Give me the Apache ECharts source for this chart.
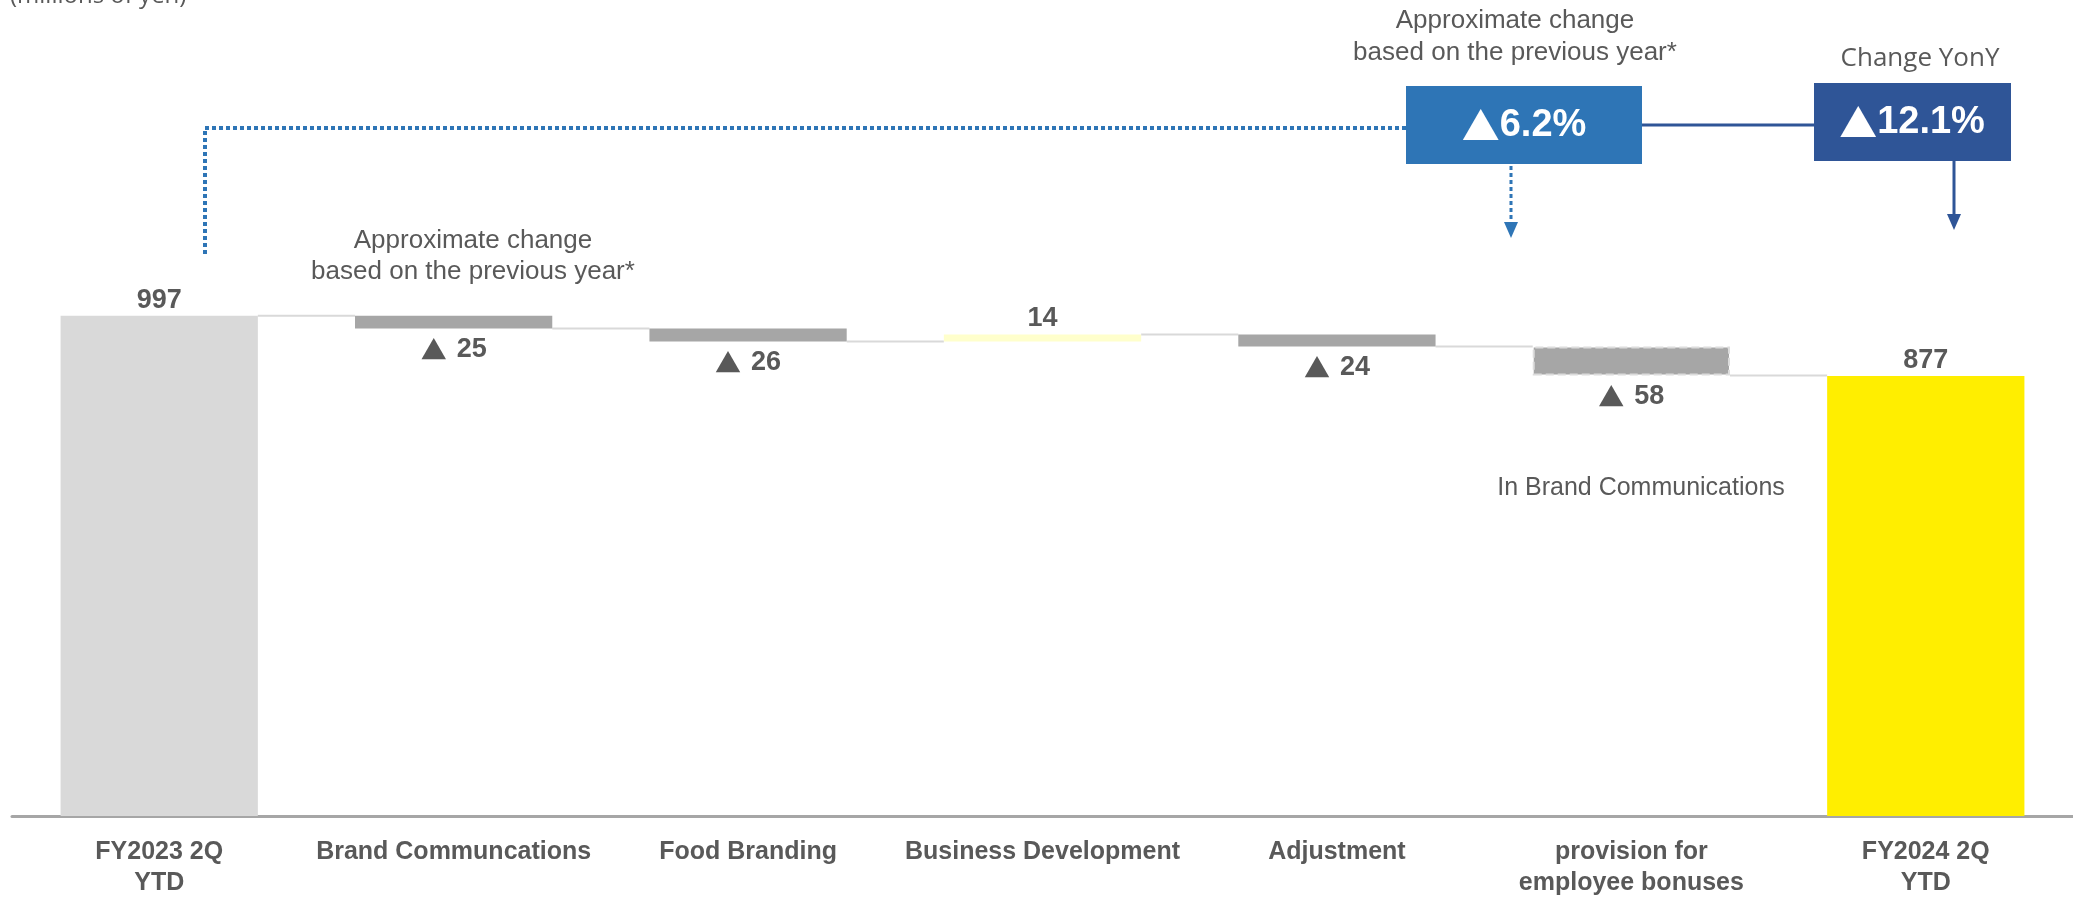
<!DOCTYPE html>
<html>
<head>
<meta charset="utf-8">
<script src="https://cdn.jsdelivr.net/npm/echarts@6/dist/echarts.min.js"></script>
<style>
html,body{margin:0;padding:0;background:#fff;}
#chart{width:2073px;height:899px;}
</style>
</head>
<body>
<div id="chart"></div>
<script>
// ---- data ----
const categories = ['FY2023 2Q\nYTD', 'Brand Communcations', 'Food Branding', 'Business Development', 'Adjustment', 'provision for\nemployee bonuses', 'FY2024 2Q\nYTD'];
const startValue = 997;
const deltas = [-25, -26, 14, -24, -58];
const endValue = 877;
const boxChange = '6.2%';
const yonyChange = '12.1%';

// ---- derived waterfall ----
const baseVals = [0];
const barVals = [startValue];
const levels = [startValue];
let run = startValue;
deltas.forEach(d => {
  const next = run + d;
  baseVals.push(Math.min(run, next));
  barVals.push(Math.abs(d));
  run = next;
  levels.push(run);
});
baseVals.push(0);
barVals.push(endValue);

const FONT = "'Liberation Sans', Arial, sans-serif";
const CJK = "'Noto Sans CJK JP', 'DejaVu Sans', sans-serif";
const TXT = '#595959';

const barData = barVals.map((v, i) => {
  let color, label, extra = {};
  if (i === 0) { color = '#d9d9d9'; label = { position: 'top', distance: 2, formatter: '{n|' + v + '}' }; }
  else if (i === barVals.length - 1) { color = '#ffee00'; label = { position: 'top', distance: 2, formatter: '{n|' + v + '}' }; }
  else {
    const d = deltas[i - 1];
    if (d >= 0) { color = '#ffffcc'; label = { position: 'top', distance: 2, formatter: '{n|' + d + '}' }; }
    else { color = '#a6a6a6'; label = { position: 'bottom', distance: 8, formatter: '{t|▲}{n|' + Math.abs(d) + '}' }; }
    if (i === 5) extra = { borderColor: '#dcdcdc', borderType: 'dashed', borderWidth: 2 };
  }
  return { value: v, itemStyle: Object.assign({ color: color }, extra), label: label };
});

const connectorData = levels.map((l, i) => [i, l]);

const chart = echarts.init(document.getElementById('chart'), null, { renderer: 'canvas' });
chart.setOption({
  animation: false,
  backgroundColor: '#ffffff',
  grid: { left: 12, width: 2070, top: 214, bottom: 82, containLabel: false },
  xAxis: {
    type: 'category',
    data: categories,
    axisLine: { show: true, lineStyle: { color: '#a6a6a6', width: 3 } },
    axisTick: { show: false },
    axisLabel: { interval: 0, margin: 21, fontFamily: FONT, fontWeight: 'bold', fontSize: 25, lineHeight: 31, color: TXT }
  },
  yAxis: { type: 'value', min: 0, max: 1200, show: false, splitLine: { show: false } },
  series: [
    {
      type: 'bar', stack: 'w', data: baseVals, barCategoryGap: '33%',
      itemStyle: { color: 'transparent' }, label: { show: false }, silent: true
    },
    {
      type: 'bar', stack: 'w', data: barData, barCategoryGap: '33%',
      label: {
        show: true, color: TXT,
        rich: {
          n: { fontFamily: FONT, fontWeight: 'bold', fontSize: 27, color: TXT },
          t: { fontFamily: CJK, fontSize: 26, color: TXT, padding: [0, 10, 0, 0] }
        }
      }
    },
    {
      type: 'custom', data: connectorData, z: 1,
      renderItem: function (params, api) {
        const i = api.value(0);
        if (i >= categories.length - 1) return null;
        const lvl = api.value(1);
        const p1 = api.coord([i, lvl]);
        const p2 = api.coord([i + 1, lvl]);
        const bw = api.size([1, 0])[0] * 0.67;
        return {
          type: 'line',
          shape: { x1: p1[0] + bw / 2, y1: p1[1], x2: p2[0] - bw / 2, y2: p1[1] },
          style: { stroke: '#d9d9d9', lineWidth: 2 }
        };
      }
    }
  ],
  graphic: [
    { type: 'text', left: 10, top: -16, style: { text: '(millions of yen)', font: "24px 'Open Sans', sans-serif", fill: TXT } },
    { type: 'text', x: 1515, y: 37, style: { text: 'Approximate change\nbased on the previous year*', font: '26px ' + FONT, fill: TXT, align: 'center', verticalAlign: 'middle', lineHeight: 32 } },
    { type: 'text', x: 473, y: 256, style: { text: 'Approximate change\nbased on the previous year*', font: '26px ' + FONT, fill: TXT, align: 'center', verticalAlign: 'middle', lineHeight: 31 } },
    { type: 'text', x: 1920, y: 59, style: { text: 'Change YonY', font: "26px 'Open Sans', sans-serif", fill: TXT, align: 'center', verticalAlign: 'middle' } },
    { type: 'text', x: 1641, y: 488, style: { text: 'In Brand Communications', font: '25px ' + FONT, fill: TXT, align: 'center', verticalAlign: 'middle' } },
    { type: 'polyline', shape: { points: [[205, 254], [205, 128], [1406, 128]] }, style: { stroke: '#2e75b6', lineWidth: 4, lineDash: [4, 3], fill: null } },
    { type: 'rect', shape: { x: 1406, y: 86, width: 236, height: 78 }, style: { fill: '#2e75b6' } },
    { type: 'text', x: 1524, y: 126, style: {
        text: '{t|▲}{n|' + boxChange + '}', align: 'center', verticalAlign: 'middle',
        rich: { t: { fontFamily: CJK, fontSize: 38, fill: '#ffffff', color: '#ffffff' }, n: { fontFamily: FONT, fontWeight: 'bold', fontSize: 38, fill: '#ffffff', color: '#ffffff' } } } },
    { type: 'line', shape: { x1: 1642, y1: 125, x2: 1814, y2: 125 }, style: { stroke: '#2f5597', lineWidth: 3 } },
    { type: 'rect', shape: { x: 1814, y: 83, width: 197, height: 78 }, style: { fill: '#2f5597' } },
    { type: 'text', x: 1912, y: 123, style: {
        text: '{t|▲}{n|' + yonyChange + '}', align: 'center', verticalAlign: 'middle',
        rich: { t: { fontFamily: CJK, fontSize: 38, fill: '#ffffff', color: '#ffffff' }, n: { fontFamily: FONT, fontWeight: 'bold', fontSize: 38, fill: '#ffffff', color: '#ffffff' } } } },
    { type: 'line', shape: { x1: 1511, y1: 166, x2: 1511, y2: 224 }, style: { stroke: '#2e75b6', lineWidth: 3, lineDash: [4, 3] } },
    { type: 'polygon', shape: { points: [[1504, 222], [1518, 222], [1511, 238]] }, style: { fill: '#2e75b6' } },
    { type: 'line', shape: { x1: 1954, y1: 161, x2: 1954, y2: 216 }, style: { stroke: '#2f5597', lineWidth: 3 } },
    { type: 'polygon', shape: { points: [[1947, 214], [1961, 214], [1954, 230]] }, style: { fill: '#2f5597' } }
  ]
});
</script>
</body>
</html>
